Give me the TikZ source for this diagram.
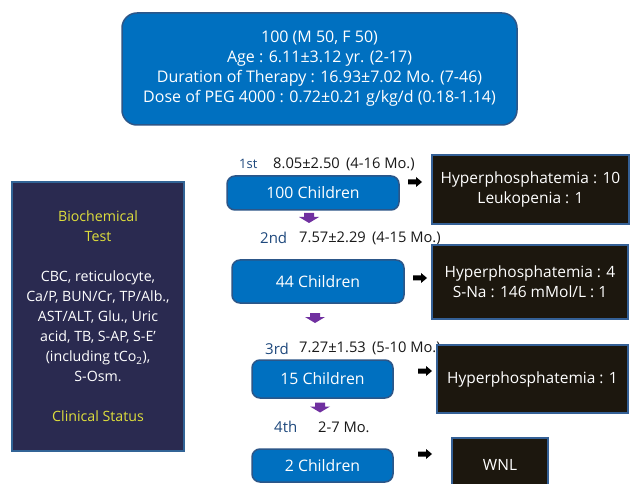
\documentclass[tikz,border=0pt]{standalone}
\usepackage{fontspec}
\setmainfont{Open Sans}
\definecolor{boxblue}{RGB}{0,112,192}
\definecolor{boxedge}{RGB}{44,86,136}
\definecolor{navyfill}{RGB}{42,42,80}
\definecolor{navyedge}{RGB}{50,100,150}
\definecolor{darkfill}{RGB}{28,23,14}
\definecolor{darkedge}{RGB}{52,96,150}
\definecolor{ytext}{RGB}{222,222,60}
\definecolor{ordblue}{RGB}{31,73,125}
\definecolor{arrpurple}{RGB}{112,48,160}
\definecolor{numtext}{RGB}{25,25,25}
\begin{document}
\begin{tikzpicture}[x=1pt,y=-1pt,
  topbox/.style={draw=boxedge,line width=1.5pt,fill=boxblue,rounded corners=15pt,text=white,
    inner sep=0pt,align=center,font=\fontsize{16}{20}\selectfont},
  childbox/.style={draw=boxedge,line width=1.5pt,fill=boxblue,rounded corners=8pt,text=white,
    inner sep=0pt,font=\fontsize{15.8}{18}\selectfont},
  leftbox/.style={draw=navyedge,line width=1.5pt,fill=navyfill,text=white,
    inner sep=0pt,align=center,font=\fontsize{14.2}{20}\selectfont},
  resbox/.style={draw=darkedge,line width=2pt,fill=darkfill,text=white,
    inner sep=0pt,align=center,font=\fontsize{15.5}{20}\selectfont},
  ordlabel/.style={anchor=west,inner sep=0pt,text=ordblue,font=\fontsize{15}{18}\selectfont},
  numlabel/.style={anchor=west,inner sep=0pt,text=numtext,font=\fontsize{14.7}{18}\selectfont},
  blkarrow/.pic={\fill[black] (-7,-2.5) -- (1,-2.5) -- (1,-5) -- (7,0) -- (1,5) -- (1,2.5) -- (-7,2.5) -- cycle;},
  purarrow/.pic={\fill[arrpurple] (-5,-5) -- (5,-5) -- (5,-1) -- (10,-1) -- (0,5) -- (-10,-1) -- (-5,-1) -- cycle;}
]
\useasboundingbox[fill=white] (0,0) rectangle (630,484);

\node[topbox,minimum width=395pt,minimum height=112pt] (top) at (319.5,69)
  {100 (M 50, F 50)\\Age : 6.11±3.12 yr. (2-17)\\Duration of Therapy : 16.93±7.02 Mo. (7-46)\\Dose of PEG 4000 : 0.72±0.21 g/kg/d (0.18-1.14)};

\node[leftbox,minimum width=172pt,minimum height=269pt] (left) at (98,316.5)
  {\textcolor{ytext}{Biochemical}\\\textcolor{ytext}{Test}\\[20pt]
   CBC, reticulocyte,\\Ca/P, BUN/Cr, TP/Alb.,\\AST/ALT, Glu., Uric\\acid, TB, S-AP, S-E’\\(including tCo\textsubscript{2}),\\S-Osm.\\[20pt]
   \textcolor{ytext}{Clinical Status}};

\node[childbox,minimum width=172pt,minimum height=34pt] (c1) at (313,193) {100 Children};
\node[childbox,minimum width=172pt,minimum height=43pt] (c2) at (318,281.5) {44 Children};
\node[childbox,minimum width=141pt,minimum height=38pt] (c3) at (322.5,379) {15 Children};
\node[childbox,minimum width=141pt,minimum height=33pt] (c4) at (322.5,465.5) {2 Children};

\node[ordlabel,font=\fontsize{13}{16}\selectfont] (o1) at (239,164) {1st};
\node[numlabel] (n1) at (273,164) {8.05±2.50\, (4-16 Mo.)};
\node[ordlabel] (o2) at (260,238) {2nd};
\node[numlabel] (n2) at (299,238) {7.57±2.29\, (4-15 Mo.)};
\node[ordlabel] (o3) at (265,349) {3rd};
\node[numlabel] (n3) at (299,348) {7.27±1.53\, (5-10 Mo.)};
\node[ordlabel] (o4) at (274,427) {4th};
\node[numlabel] (n4) at (318,427) {2-7 Mo.};

\node[resbox,minimum width=197pt,minimum height=69pt] (r1) at (530.5,189.5) {Hyperphosphatemia : 10\\Leukopenia : 1};
\node[resbox,minimum width=196pt,minimum height=74pt] (r2) at (530,282) {Hyperphosphatemia : 4\\S-Na : 146 mMol/L : 1};
\node[resbox,minimum width=191pt,minimum height=68pt] (r3) at (532.5,379) {Hyperphosphatemia : 1};
\node[resbox,minimum width=96pt,minimum height=58pt] (r4) at (500,467) {};
\node[inner sep=0pt,text=white,font=\fontsize{15.5}{18}\selectfont] (wnl) at (500,465) {WNL};

\pic at (415,182) {blkarrow};
\pic at (420,278) {blkarrow};
\pic at (425,371) {blkarrow};
\pic at (425,454) {blkarrow};

\pic at (309,218) {purarrow};
\pic at (315,318) {purarrow};
\pic at (320,407.5) {purarrow};
\end{tikzpicture}
\end{document}
